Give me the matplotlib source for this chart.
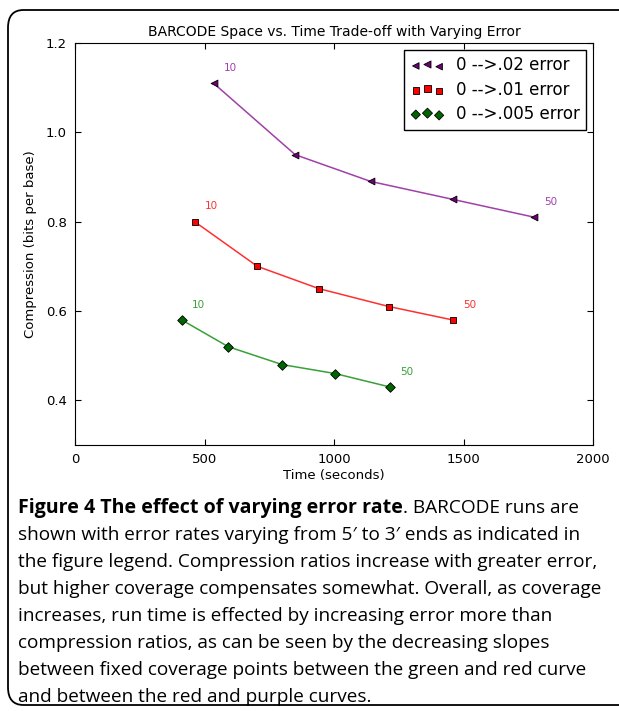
import matplotlib
matplotlib.use('Agg')
import matplotlib.pyplot as plt
from matplotlib.patches import FancyBboxPatch
from matplotlib.collections import PathCollection
from matplotlib.legend_handler import HandlerPathCollection

# dados
tempo_02 = [535, 850, 1142, 1458, 1773]
comp_02 = [1.11, 0.95, 0.89, 0.85, 0.81]
tempo_01 = [462, 704, 942, 1212, 1458]
comp_01 = [0.80, 0.70, 0.65, 0.61, 0.58]
tempo_005 = [412, 592, 800, 1004, 1215]
comp_005 = [0.58, 0.52, 0.48, 0.46, 0.43]
rotulos = ['0 -->.02 error', '0 -->.01 error', '0 -->.005 error']
cobertura = ['10', '50']

legenda_linhas = [
    ('Figure 4 The effect of varying error rate', '. BARCODE runs are'),
    ('', "shown with error rates varying from 5\u2032 to 3\u2032 ends as indicated in"),
    ('', 'the figure legend. Compression ratios increase with greater error,'),
    ('', 'but higher coverage compensates somewhat. Overall, as coverage'),
    ('', 'increases, run time is effected by increasing error more than'),
    ('', 'compression ratios, as can be seen by the decreasing slopes'),
    ('', 'between fixed coverage points between the green and red curve'),
    ('', 'and between the red and purple curves.'),
]

W, H = 619, 711
fig = plt.figure(figsize=(W / 100, H / 100), dpi=100)
ax = fig.add_axes([75 / W, 1 - 445 / H, 518 / W, 402 / H])

series = [
    (tempo_02, comp_02, '#a040a8', '#700078', '<', rotulos[0]),
    (tempo_01, comp_01, '#ff3030', 'red', 's', rotulos[1]),
    (tempo_005, comp_005, '#38a038', '#006400', 'D', rotulos[2]),
]
for x, y, cor, cor_m, marc, rot in series:
    ax.plot(x, y, color=cor, lw=1.1, zorder=2)
    ax.scatter(x, y, s=24, marker=marc, color=cor_m, edgecolor='black',
               linewidth=0.6, zorder=3, label=rot)
    # rótulos de cobertura no primeiro e no último ponto
    ax.annotate(cobertura[0], (x[0], y[0]), xytext=(12, 11), textcoords='offset points',
                ha='center', va='center', color=cor, fontsize=7.5)
    ax.annotate(cobertura[1], (x[-1], y[-1]), xytext=(12, 11), textcoords='offset points',
                ha='center', va='center', color=cor, fontsize=7.5)

ax.set_xlim(0, 2000)
ax.set_ylim(0.3, 1.2)
ax.set_xticks([0, 500, 1000, 1500, 2000])
ax.set_yticks([0.4, 0.6, 0.8, 1.0, 1.2])
ax.tick_params(direction='in', top=True, right=True, length=4, labelsize=9.5, pad=6)
ax.set_xlabel('Time (seconds)', fontsize=9.5, labelpad=2)
ax.set_ylabel('Compression (bits per base)', fontsize=9.5, labelpad=6)
ax.set_title('BARCODE Space vs. Time Trade-off with Varying Error', fontsize=10, pad=5)

leg = ax.legend(loc='upper right', scatterpoints=3, fontsize=12, fancybox=False,
                edgecolor='black', framealpha=1, borderaxespad=0.4, handletextpad=0.7,
                borderpad=0.4, labelspacing=0.38,
                handler_map={PathCollection: HandlerPathCollection(sizes=[22, 26, 22])})
leg.get_frame().set_linewidth(1.0)

# moldura arredondada
moldura = FancyBboxPatch((8 / W, 1 - 705 / H), 700 / W, 695 / H,
                         boxstyle='round,pad=0,rounding_size=0.025',
                         transform=fig.transFigure, fill=False, ec='black', lw=1.3,
                         clip_on=False)
fig.patches.append(moldura)

# texto da legenda da figura
fig.canvas.draw()
renderer = fig.canvas.get_renderer()
fonte = 'Open Sans'
tam = 13.7
for i, (negrito, normal) in enumerate(legenda_linhas):
    yy = 1 - (508 + 27.0 * i) / H
    x0 = 18 / W
    if negrito:
        t = fig.text(x0, yy, negrito, fontsize=tam + 0.4, family=fonte, weight='bold', va='center')
        bb = t.get_window_extent(renderer)
        x0 = bb.x1 / W
    fig.text(x0, yy, normal, fontsize=tam, family=fonte, va='center')

fig.savefig('out.png', dpi=100)
